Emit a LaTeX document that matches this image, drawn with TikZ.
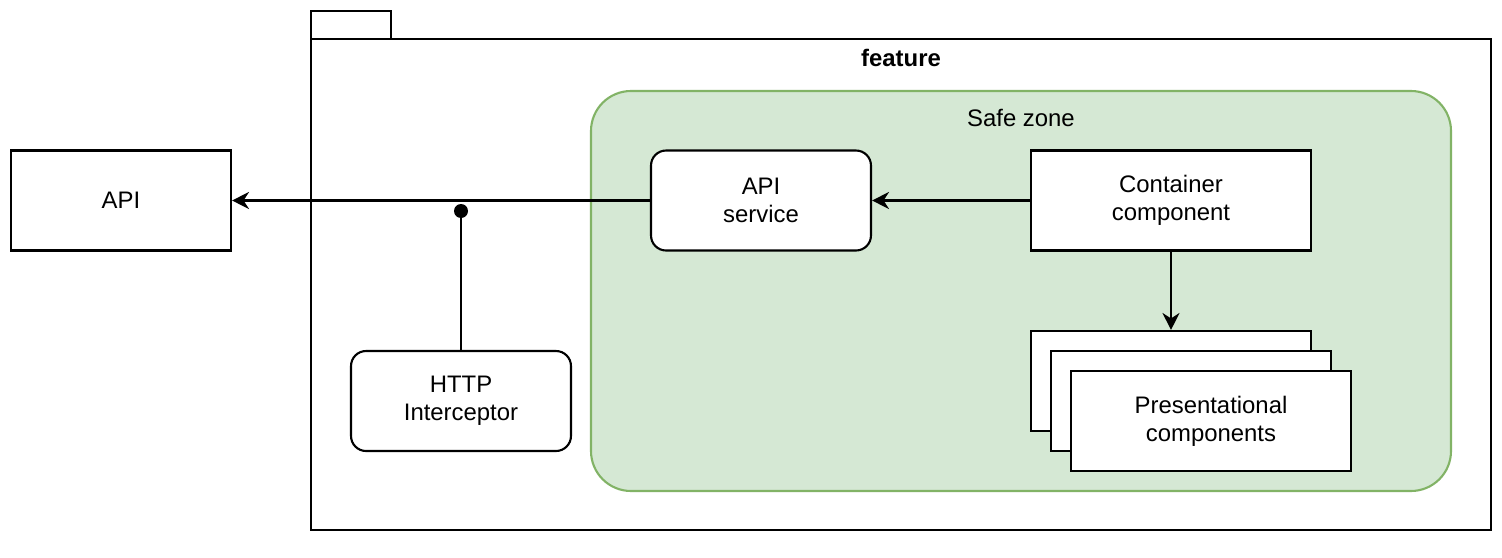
\documentclass[tikz,border=0pt]{standalone}
\usepackage{fontspec}
\setmainfont{Liberation Sans}
\usepackage{tikz}
\usetikzlibrary{arrows.meta}

\definecolor{zonefill}{HTML}{D5E8D4}
\definecolor{zoneline}{HTML}{82B366}

\begin{document}
\begin{tikzpicture}[x=0.02cm,y=-0.02cm,line width=1.2pt,
  every node/.style={font=\fontsize{13.6}{16}\selectfont,align=center},
  box/.style={draw,fill=white,minimum width=4.4cm,minimum height=2cm,inner sep=0pt},
  widebox/.style={box,minimum width=5.6cm},
  roundbox/.style={box,rounded corners=0.3cm},
  arr/.style={-{Stealth[length=3.4mm,width=3.4mm,inset=1.1mm]}}]
\useasboundingbox (0,0) rectangle (1502,558);
% package
\draw (311,11) rectangle (391,39);
\draw (311,39) rectangle (1491,530);
\node[font=\fontsize{13.6}{16}\selectfont\bfseries] (feat) at (901,58) {feature};
% safe zone
\draw[fill=zonefill,draw=zoneline,rounded corners=0.8cm] (591,91) rectangle (1451,491);
\node (zone) at (1021,118) {Safe zone};
% boxes
\node[box] (api) at (121,200.5) {API};
\node[roundbox] (svc) at (761,200.5) {API\\service};
\node[widebox] (cont) at (1171,200.5) {Container\\component};
\node[widebox] (pres1) at (1171,381) {};
\node[widebox] (pres2) at (1191,401) {};
\node[widebox] (pres3) at (1211,421) {Presentational\\components};
\node[roundbox] (icp) at (461,401) {HTTP\\Interceptor};
\coordinate (tap) at (461,211);
% connectors
\draw[arr] (svc.west) -- (api.east);
\draw[arr] (cont.west) -- (svc.east);
\draw[arr] (cont.south) -- (pres1.north);
\draw (tap) -- (icp.north);
\fill (tap) circle (0.14cm);
\end{tikzpicture}
\end{document}
